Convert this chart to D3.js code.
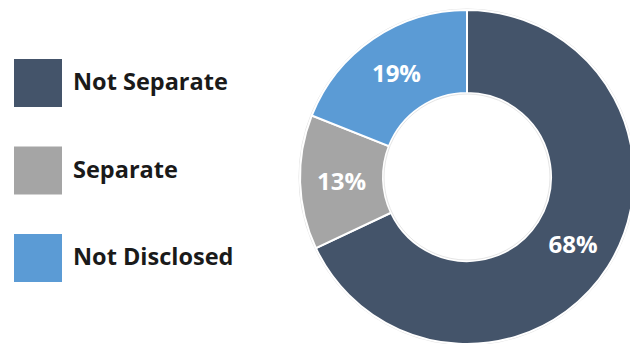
<!DOCTYPE html>
<html>
<head>
<meta charset="utf-8">
<script src="https://cdn.jsdelivr.net/npm/d3@7"></script>
<style>
  html, body { margin: 0; padding: 0; background: #fff; }
  svg { display: block; }
  text { font-family: "Open Sans", "Lato", sans-serif; font-weight: 700; }
</style>
</head>
<body>
<svg id="chart" width="630" height="344"></svg>
<script>
// Share of companies by disclosure category
const categories = ["Not Separate", "Separate", "Not Disclosed"];
const values = [68, 13, 19];
const colors = ["#44546a", "#a5a5a5", "#5b9bd5"];

const svg = d3.select("#chart");

// Donut geometry
const cx = 467, cy = 177, outerR = 167, innerR = 84;

const pie = d3.pie().sort(null).value(d => d.value);
const arc = d3.arc().innerRadius(innerR).outerRadius(outerR);

const data = categories.map((c, i) => ({ name: c, value: values[i], color: colors[i] }));
const arcs = pie(data);

const g = svg.append("g").attr("transform", `translate(${cx},${cy})`);

// faint rim around the ring
g.append("circle").attr("r", outerR + 1).attr("fill", "none").attr("stroke", "#e2e2e2").attr("stroke-width", 1);

g.selectAll("path.slice")
  .data(arcs)
  .join("path")
  .attr("class", "slice")
  .attr("d", arc)
  .attr("fill", d => d.data.color)
  .attr("stroke", "#fff")
  .attr("stroke-width", 2);

g.append("circle").attr("r", innerR - 1).attr("fill", "none").attr("stroke", "#e6e6e6").attr("stroke-width", 1);

g.selectAll("text.pct")
  .data(arcs)
  .join("text")
  .attr("class", "pct")
  .attr("transform", d => `translate(${arc.centroid(d)})`)
  .attr("text-anchor", "middle")
  .attr("dy", "0.36em")
  .attr("fill", "#fff")
  .attr("font-size", 24)
  .text(d => d.data.value + "%");

// Legend
const legendY = d3.scalePoint().domain(categories).range([83, 258]);

const item = svg.append("g").selectAll("g.item")
  .data(data)
  .join("g")
  .attr("class", "item")
  .attr("transform", d => `translate(0,${legendY(d.name)})`);

item.append("rect")
  .attr("x", 14).attr("y", -24)
  .attr("width", 48).attr("height", 48)
  .attr("fill", d => d.color);

item.append("text")
  .attr("x", 73)
  .attr("y", 7)
  .attr("fill", "#1a1a1a")
  .attr("font-size", 23.5)
  .text(d => d.name);
</script>
</body>
</html>
